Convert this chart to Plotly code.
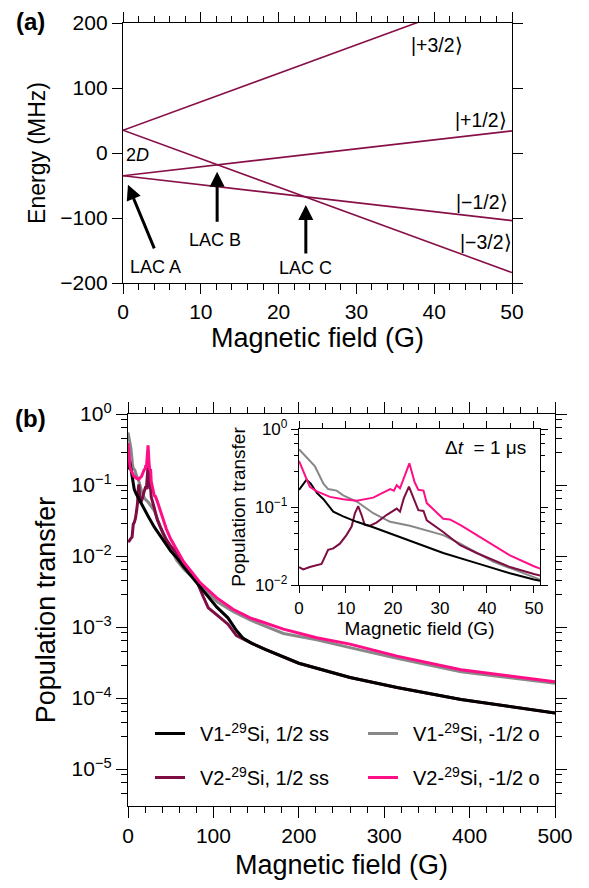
import plotly.graph_objects as go
import numpy as np

# ---------------- Panel (a): energy levels ----------------
field_a = [0, 50]
E_p32 = [35, 254]
E_p12 = [-35, 34]
E_m12 = [-35, -104]
E_m32 = [35, -184]

# ---------------- Panel (b): population transfer (log10 values) ----------------
B_v1_ss = [0, 1.6, 2.5, 3.8, 5.2, 7.3, 9.4, 12.3, 15.8, 19.4, 23.6, 30.7, 37.8, 44.9, 50,
           57, 65, 80, 94, 104, 117, 127, 135, 145, 162, 200, 260, 315, 390, 500]
L_v1_ss = [-0.78, -0.65, -0.70, -0.82, -0.90, -1.06, -1.12, -1.19, -1.26, -1.34, -1.44, -1.59, -1.72, -1.85, -1.93,
           -2.02, -2.15, -2.37, -2.58, -2.72, -2.87, -3.05, -3.16, -3.23, -3.32, -3.51, -3.71, -3.85, -4.02, -4.21]

B_v1_o = [0, 2.3, 3.4, 5.2, 6.2, 8.0, 9.4, 12.3, 15.8, 19.4, 23.6, 30.7, 34.3, 41.3, 50,
          57, 65, 76.5, 90, 104, 123, 143, 182, 221, 260, 315, 390, 500]
L_v1_o = [-0.26, -0.40, -0.48, -0.70, -0.77, -0.79, -0.85, -0.93, -1.08, -1.19, -1.24, -1.36, -1.47, -1.70, -1.89,
          -2.06, -2.18, -2.31, -2.48, -2.64, -2.78, -2.90, -3.09, -3.18, -3.29, -3.44, -3.63, -3.79]

B_v2_o = [0, 1.3, 2.3, 3.8, 6.6, 9.4, 12.3, 15.8, 17.9, 19.4, 20.2, 20.8, 21.5, 22.6, 23.5, 24.6, 25.4, 26.5, 27.2,
          30.7, 32.1, 34.3, 37.8, 41.3, 44.9, 50, 65, 84, 104, 123, 143, 182, 221, 260, 315, 390, 500]
L_v2_o = [-0.41, -0.59, -0.74, -0.80, -0.87, -0.90, -0.92, -0.88, -0.82, -0.77, -0.79, -0.72, -0.76, -0.57, -0.44,
          -0.68, -0.78, -0.79, -0.95, -1.15, -1.16, -1.23, -1.36, -1.49, -1.62, -1.76, -2.08, -2.37, -2.59, -2.75,
          -2.87, -3.03, -3.15, -3.24, -3.41, -3.60, -3.77]

B_v2_ss = [0, 0.9, 2.3, 4.8, 5.5, 6.2, 7.3, 8.7, 10.1, 11.2, 11.9, 12.6, 13.3, 14.0, 15.1, 16.5, 18.7, 20.1, 20.8,
           21.5, 22.3, 23.4, 24.6, 25.4, 26.5, 27.2, 30.7, 34.3, 37.8, 41.3, 44.9, 50, 60, 73, 80, 88, 94, 104,
           117, 127, 135, 145, 162, 200, 260, 315, 390, 500]
L_v2_ss = [-1.77, -1.80, -1.77, -1.73, -1.64, -1.55, -1.53, -1.47, -1.36, -1.25, -1.08, -0.99, -1.10, -1.23, -1.24,
           -1.20, -1.10, -1.05, -1.02, -1.06, -0.89, -0.74, -0.91, -1.04, -1.05, -1.17, -1.32, -1.49, -1.59, -1.68,
           -1.77, -1.86, -2.00, -2.25, -2.34, -2.57, -2.73, -2.83, -2.96, -3.12, -3.17, -3.23, -3.32, -3.51, -3.71,
           -3.85, -4.02, -4.21]

names = {
    "v1_ss": "\u2002V1-<sup>29</sup>Si, 1/2 ss",
    "v2_ss": "\u2002V2-<sup>29</sup>Si, 1/2 ss",
    "v1_o": "\u2002V1-<sup>29</sup>Si, -1/2 o",
    "v2_o": "\u2002V2-<sup>29</sup>Si, -1/2 o",
}

MAROON = "#7d0d42"
PINK = "#ff0f87"
GRAY = "#888888"
BLACK = "#000000"
LINE_A = "#870f47"

# page body margin of 8 px is compensated: figure is placed at (8, 8) in the 589x888 window
OFF = 8
W, H = 589 - 2 * OFF, 888 - 2 * OFF
def px(x): return (x - OFF) / W
def py(y): return 1 - (y - OFF) / H

FONT = "Liberation Sans, Arial, sans-serif"

fig = go.Figure()

# panel a traces
for E in [E_p32, E_p12, E_m12, E_m32]:
    fig.add_trace(go.Scatter(x=field_a, y=E, mode="lines", line=dict(color=LINE_A, width=1.6),
                             xaxis="x", yaxis="y", showlegend=False, hoverinfo="skip"))

series = [
    ("v1_o", B_v1_o, L_v1_o, GRAY, "legend2", 1),
    ("v2_ss", B_v2_ss, L_v2_ss, MAROON, "legend", 2),
    ("v1_ss", B_v1_ss, L_v1_ss, BLACK, "legend", 1),
    ("v2_o", B_v2_o, L_v2_o, PINK, "legend2", 2),
]
for key, B, L, col, leg, rank in series:
    vals = np.power(10.0, np.array(L))
    fig.add_trace(go.Scatter(x=B, y=vals, mode="lines", line=dict(color=col, width=3),
                             name=names[key], legend=leg, legendrank=rank, legendgroup=key,
                             xaxis="x2", yaxis="y2"))
for key, B, L, col, leg, rank in series:
    vals = np.power(10.0, np.array(L))
    fig.add_trace(go.Scatter(x=B, y=vals, mode="lines", line=dict(color=col, width=2),
                             showlegend=False, xaxis="x3", yaxis="y3", hoverinfo="skip"))

axis_common = dict(showgrid=False, zeroline=False, linecolor="black", linewidth=1.3,
                   ticks="outside", tickcolor="black", tickwidth=1.3, mirror="ticks",
                   showline=True, automargin=False)

def log_minor(lo, hi):
    fr = [0.075, 0.19, 0.34, 0.54]
    out = []
    for d in range(lo, hi + 1):
        for f in fr:
            out.append(10 ** (d - f))
    return out

fig.update_layout(
    template="none",
    width=W, height=H, margin=dict(l=0, r=0, t=0, b=0, autoexpand=False),
    paper_bgcolor="white", plot_bgcolor="white",
    font=dict(family=FONT, color="black", size=20),
    xaxis=dict(domain=[px(123), px(512)], anchor="y", range=[0, 50], dtick=10, ticklen=10,
               minor=dict(dtick=2, ticklen=6, ticks="outside", tickcolor="black", tickwidth=1.3),
               tickfont=dict(size=21), title=dict(text="Magnetic field (G)", font=dict(size=27), standoff=3),
               **axis_common),
    yaxis=dict(domain=[py(283), py(23)], anchor="x", range=[-200, 200], dtick=100, ticklen=10,
               tickfont=dict(size=21), title=dict(text="Energy (MHz)", font=dict(size=23), standoff=8),
               **axis_common),
    xaxis2=dict(domain=[px(128), px(555)], anchor="y2", range=[0, 500], dtick=100, ticklen=11,
                minor=dict(dtick=20, ticklen=6, ticks="outside", tickcolor="black", tickwidth=1.3),
                tickfont=dict(size=21), title=dict(text="Magnetic field (G)", font=dict(size=27), standoff=9),
                **axis_common),
    yaxis2=dict(domain=[py(806), py(414)], anchor="x2", type="log", range=[-5.52, 0], ticklen=11,
                tickmode="array", tickvals=[10.0 ** -k for k in range(0, 6)],
                ticktext=["10<sup>0</sup>"] + ["10<sup>\u2212%d</sup>" % k for k in range(1, 6)],
                minor=dict(tickmode="array", tickvals=log_minor(-5, 0), ticklen=6, ticks="outside",
                           tickcolor="black", tickwidth=1.3),
                tickfont=dict(size=21), title=dict(text="Population transfer", font=dict(size=27), standoff=8),
                **axis_common),
    xaxis3=dict(domain=[px(299), px(540)], anchor="y3", range=[0, 51.3], dtick=10, ticklen=7,
                minor=dict(dtick=5, ticklen=5, ticks="outside", tickcolor="black", tickwidth=1.3),
                tickfont=dict(size=17), title=dict(text="Magnetic field (G)", font=dict(size=19), standoff=4),
                **axis_common),
    yaxis3=dict(domain=[py(585), py(429)], anchor="x3", type="log", range=[-2, 0], ticklen=7,
                tickmode="array", tickvals=[1, 0.1, 0.01],
                ticktext=["10<sup>0</sup>", "10<sup>\u22121</sup>", "10<sup>\u22122</sup>"],
                minor=dict(tickmode="array", tickvals=log_minor(-1, 0), ticklen=4, ticks="outside",
                           tickcolor="black", tickwidth=1.3),
                tickfont=dict(size=17), title=dict(text="Population transfer", font=dict(size=19), standoff=4),
                **axis_common),
    legend=dict(x=px(150), y=py(714), xanchor="left", yanchor="top", orientation="v",
                font=dict(size=20), tracegroupgap=15, bgcolor="rgba(0,0,0,0)"),
    legend2=dict(x=px(363), y=py(714), xanchor="left", yanchor="top", orientation="v",
                 font=dict(size=20), tracegroupgap=15, bgcolor="rgba(0,0,0,0)"),
)

ann = []
def txt(x, y, s, size=18, xref="x", yref="y", **kw):
    ann.append(dict(x=x, y=y, xref=xref, yref=yref, text=s, showarrow=False,
                    xanchor="center", yanchor="middle",
                    font=dict(size=size, family=FONT, color="black"), **kw))

# panel labels
txt(px(30), py(22), "<b>(a)</b>", size=24, xref="paper", yref="paper")
txt(px(30), py(418), "<b>(b)</b>", size=24, xref="paper", yref="paper")

# panel a texts
txt(1.9, -3, "2<i>D</i>", size=18)
txt(4.24, -175, "LAC A", size=18)
txt(11.8, -134, "LAC B", size=18)
txt(23.4, -177, "LAC C", size=18)
txt(40.4, 166, "|+3/2\u27e9", size=19.5)
txt(46.0, 51, "|+1/2\u27e9", size=19.5)
txt(46.2, -75, "|\u22121/2\u27e9", size=19.5)
txt(46.7, -137, "|\u22123/2\u27e9", size=19.5)

# arrows
for (hx, hy, tx, ty) in [(0.64, -49, 4.1, -149), (12.1, -29, 12.1, -108), (23.5, -80, 23.5, -157)]:
    ann.append(dict(x=hx, y=hy, ax=tx, ay=ty, xref="x", yref="y", axref="x", ayref="y",
                    text="", showarrow=True, arrowhead=2, arrowsize=1, arrowwidth=3, arrowcolor="black"))

# inset label
txt(px(485), py(447), "\u0394<i>t</i>  = 1 \u03bcs", size=19, xref="paper", yref="paper")

fig.update_layout(annotations=ann)
fig.write_html("out.html")
